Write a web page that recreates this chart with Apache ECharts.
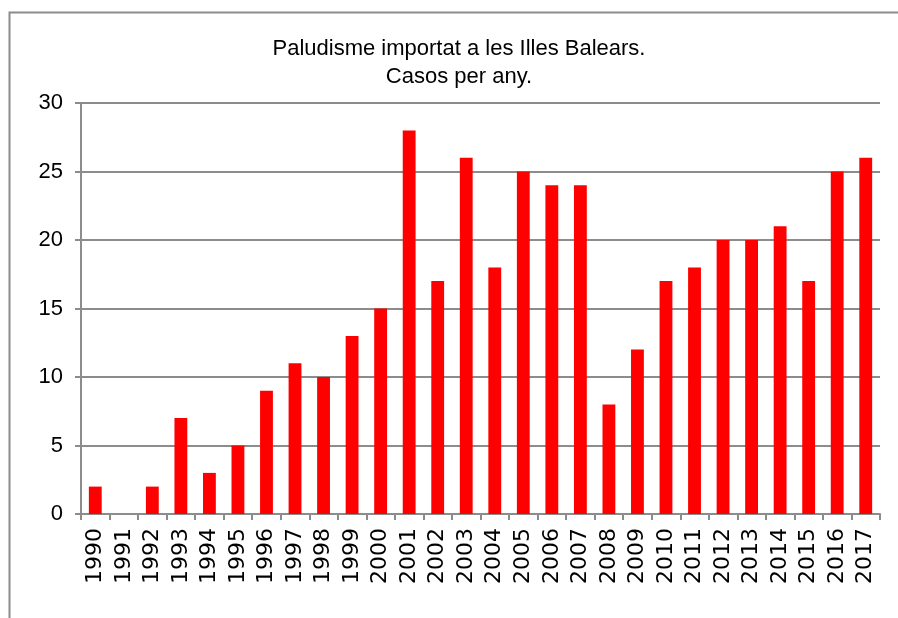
<!DOCTYPE html>
<html>
<head>
<meta charset="utf-8">
<script src="https://cdn.jsdelivr.net/npm/echarts@6/dist/echarts.min.js"></script>
<style>html,body{margin:0;padding:0;background:#fff}#c{width:898px;height:618px}</style>
</head>
<body>
<div id="c"></div>
<script>
const years = ['1990','1991','1992','1993','1994','1995','1996','1997','1998','1999','2000','2001','2002','2003','2004','2005','2006','2007','2008','2009','2010','2011','2012','2013','2014','2015','2016','2017'];
const cases = [2,0,2,7,3,5,9,11,10,13,15,28,17,26,18,25,24,24,8,12,17,18,20,20,21,17,25,26];
const yTicks = [0,5,10,15,20,25,30];
const titleText = 'Paludisme importat a les Illes Balears.\nCasos per any.';

const chart = echarts.init(document.getElementById('c'), null, {renderer:'canvas'});
chart.setOption({
  animation: false,
  backgroundColor: '#fff',
  graphic: [{
    type: 'rect', left: 7, top: 10, z: 0, silent: true,
    shape: {width: 1000, height: 700},
    style: {fill: 'none', stroke: '#8c8c8c', lineWidth: 2}
  }, {
    type: 'text', x: 459, y: 35, z: 10, silent: true,
    style: {
      text: titleText,
      align: 'center', verticalAlign: 'top',
      textAlign: 'center', textVerticalAlign: 'top',
      font: '22px "Liberation Sans"', fill: '#000', lineHeight: 28
    }
  }],
  grid: {left: 81, right: 18, top: 103, bottom: 104, containLabel: false},
  xAxis: {
    type: 'category', data: years,
    axisLine: {lineStyle: {color: '#8c8c8c', width: 2}},
    axisTick: {show: true, length: 6, lineStyle: {color: '#8c8c8c', width: 2}},
    axisLabel: {rotate: 90, interval: 0, margin: 14, fontFamily: 'DejaVu Sans', fontSize: 22, color: '#000'}
  },
  yAxis: {
    type: 'value', min: yTicks[0], max: yTicks[yTicks.length-1], interval: 5,
    axisLine: {show: true, lineStyle: {color: '#8c8c8c', width: 2}},
    axisTick: {show: true, length: 6, lineStyle: {color: '#8c8c8c', width: 2}},
    splitLine: {lineStyle: {color: '#8c8c8c', width: 2}},
    axisLabel: {margin: 18, fontFamily: 'Liberation Sans', fontSize: 22, color: '#000'}
  },
  series: [{
    type: 'bar', data: cases, barWidth: '45%',
    itemStyle: {color: '#ff0000'}
  }]
});
</script>
</body>
</html>
